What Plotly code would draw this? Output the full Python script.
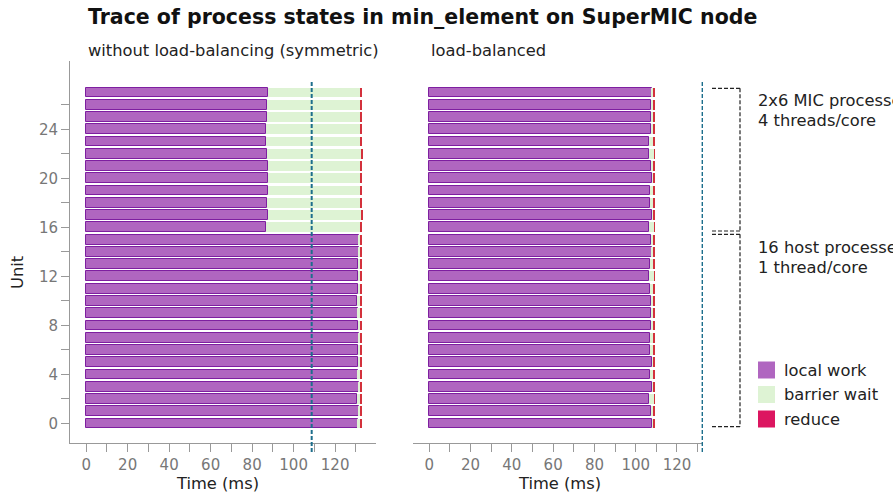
import plotly.graph_objects as go

W, H = 893, 496

units = list(range(28))  # 0-15 host processes, 16-27 MIC processes

# --- without load-balancing (symmetric) ---
sym_work_end = [131.0, 131.3, 130.4, 131.3, 131.0, 131.2, 131.2, 131.3,
                131.2, 131.0, 130.7, 130.8, 130.8, 130.8, 131.3, 131.3,
                86.8, 87.5, 87.1, 87.5, 87.5, 87.6, 87.0, 86.5,
                86.6, 87.1, 87.1, 87.8]
sym_wait_end = [131.9, 131.9, 132.2, 131.9, 131.9, 132.0, 131.9, 131.9,
                132.1, 131.9, 131.9, 131.9, 132.0, 131.9, 131.9, 131.9,
                131.9, 132.5, 131.8, 131.8, 131.8, 131.8, 132.5, 131.8,
                131.8, 131.8, 131.8, 131.8]
sym_reduce_end = [133.0] * 28

# --- load-balanced ---
bal_work_end = [107.9, 107.4, 106.6, 108.1, 107.1, 107.9, 107.1, 106.9,
                107.6, 107.6, 107.4, 106.9, 106.5, 107.1, 107.7, 107.6,
                106.6, 107.9, 107.1, 107.1, 107.9, 107.4, 106.5, 106.5,
                107.4, 107.4, 107.3, 107.7]
bal_wait_end = [108.4, 108.4, 109.0, 108.4, 108.4, 108.4, 108.4, 108.4,
                108.4, 108.4, 108.4, 108.4, 109.0, 108.4, 108.4, 108.4,
                109.0, 108.4, 108.4, 108.4, 108.4, 108.4, 109.0, 108.4,
                108.4, 108.4, 108.4, 108.4]
bal_reduce_end = [109.3] * 28

# reference lines: total time of the other variant
ref_left = 108.7
ref_right = 132.4

x_tickvals = list(range(0, 140, 10))
x_ticktext = [str(v) if v % 20 == 0 else "" for v in x_tickvals]
y_tickvals = list(range(0, 28, 2))
y_ticktext = [str(v) if v % 4 == 0 else "" for v in y_tickvals]

C_WORK = "#B066C0"
C_WORK_LINE = "#7E1FA0"
C_WAIT = "#DEF3D4"
C_REDUCE_BAR = "#D3313C"
C_REDUCE = "#DC1660"
C_REF = "#1D6E8C"
FONT = "DejaVu Sans"


def px(x):
    return x / W


def py(y):
    return 1 - y / H


fig = go.Figure()


def add_panel(work_end, wait_end, reduce_end, xa, ya):
    wait_len = [b - a for a, b in zip(work_end, wait_end)]
    red_len = [b - a for a, b in zip(wait_end, reduce_end)]
    fig.add_trace(go.Bar(y=units, x=work_end, base=[0] * len(units), orientation="h",
                         width=0.8, marker=dict(color=C_WORK, line=dict(color=C_WORK_LINE, width=1)),
                         xaxis=xa, yaxis=ya, showlegend=False, name="local work"))
    fig.add_trace(go.Bar(y=units, x=wait_len, base=work_end, orientation="h",
                         width=0.8, marker=dict(color=C_WAIT, line=dict(width=0)),
                         xaxis=xa, yaxis=ya, showlegend=False, name="barrier wait"))
    fig.add_trace(go.Bar(y=units, x=red_len, base=wait_end, orientation="h",
                         width=0.8, marker=dict(color=C_REDUCE_BAR, line=dict(width=0)),
                         xaxis=xa, yaxis=ya, showlegend=False, name="reduce"))


add_panel(sym_work_end, sym_wait_end, sym_reduce_end, "x", "y")
add_panel(bal_work_end, bal_wait_end, bal_reduce_end, "x2", "y2")

y_top, y_bot = 61, 443
xaxis_common = dict(showline=True, linecolor="#999", linewidth=1, ticks="outside", ticklen=8,
                    tickcolor="#999", tickfont=dict(family=FONT, size=15, color="#777"),
                    tickvals=x_tickvals, ticktext=x_ticktext, showgrid=False, zeroline=False)

fig.update_layout(
    width=W, height=H, margin=dict(l=0, r=0, t=0, b=0),
    paper_bgcolor="white", plot_bgcolor="white",
    barmode="overlay", bargap=0, showlegend=False,
    font=dict(family=FONT),
    xaxis=dict(xaxis_common, domain=[px(70), px(376)], range=[-7.8, 139.7], anchor="y"),
    xaxis2=dict(xaxis_common, domain=[px(413), px(703)], range=[-7.9, 132.6], anchor="y2"),
    yaxis=dict(domain=[py(y_bot), py(y_top)], range=[-1.59, 29.57], showline=True,
               linecolor="#999", ticks="outside", ticklen=8, tickcolor="#999",
               tickfont=dict(family=FONT, size=15, color="#777"),
               tickvals=y_tickvals, ticktext=y_ticktext, showgrid=False, zeroline=False,
               anchor="x"),
    yaxis2=dict(domain=[py(y_bot), py(y_top)], range=[-1.59, 29.57], visible=False,
                showgrid=False, zeroline=False, anchor="x2"),
)

shapes = []
# reference lines
for xr, xv in (("x", ref_left), ("x2", ref_right)):
    shapes.append(dict(type="line", xref=xr, yref="paper", x0=xv, x1=xv,
                       y0=py(452), y1=py(80), line=dict(color=C_REF, width=2, dash="4px,2px")))

# brackets
br = dict(color="#222", width=1.2, dash="4px,2px")
for top, bot in ((88.3, 231), (234.3, 426.7)):
    shapes.append(dict(type="line", xref="paper", yref="paper", x0=px(712), x1=px(740),
                       y0=py(top), y1=py(top), line=br))
    shapes.append(dict(type="line", xref="paper", yref="paper", x0=px(740), x1=px(740),
                       y0=py(top), y1=py(bot), line=br))
    shapes.append(dict(type="line", xref="paper", yref="paper", x0=px(712), x1=px(740),
                       y0=py(bot), y1=py(bot), line=br))

# legend swatches
legend_items = [("local work", C_WORK), ("barrier wait", C_WAIT), ("reduce", C_REDUCE)]
legend_rows = [370, 394.5, 419]
for (lab, col), yc in zip(legend_items, legend_rows):
    shapes.append(dict(type="rect", xref="paper", yref="paper", x0=px(758), x1=px(775),
                       y0=py(yc + 8.5), y1=py(yc - 8.5), fillcolor=col, line=dict(width=0)))
fig.update_layout(shapes=shapes)

ann = []


def text(x, y, s, size=16.3, color="#222", xanchor="left", angle=0):
    ann.append(dict(x=px(x), y=py(y), xref="paper", yref="paper", text=s, showarrow=False,
                    xanchor=xanchor, yanchor="middle", textangle=angle,
                    font=dict(family=FONT, size=size, color=color)))


text(86, 17, "<b>Trace of process states in min_element on SuperMIC node</b>", size=20.5, color="#111")
text(86, 50, "without load-balancing (symmetric)")
text(429, 50, "load-balanced")
text(217, 483, "Time (ms)", xanchor="center")
text(559, 483, "Time (ms)", xanchor="center")
text(17, 273, "Unit", xanchor="center", angle=-90)
text(756, 100, "2x6 MIC processes")
text(756, 120, "4 threads/core")
text(756, 247, "16 host processes")
text(756, 267, "1 thread/core")
for (lab, col), yc in zip(legend_items, legend_rows):
    text(782, yc, lab)
fig.update_layout(annotations=ann)

fig.write_html("out.html")
